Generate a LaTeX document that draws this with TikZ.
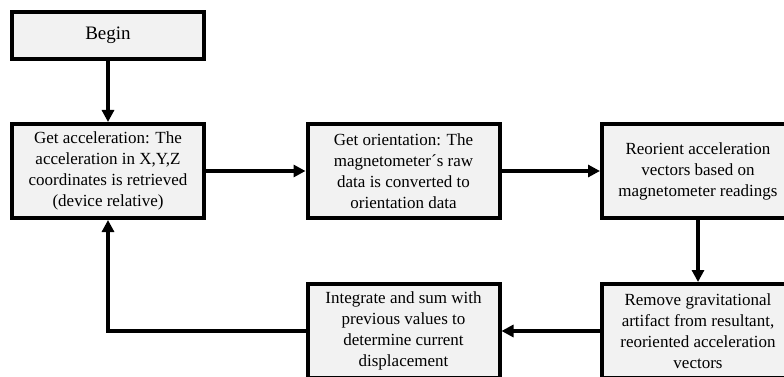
\documentclass[tikz,border=0pt]{standalone}
\usepackage{fontspec}
\setmainfont{Liberation Serif}
\usetikzlibrary{arrows.meta}
\definecolor{boxfill}{HTML}{F2F2F2}
\tikzset{
  stepbox/.style={draw=black, line width=4pt, fill=boxfill, align=center,
    minimum width=192pt, minimum height=94pt, inner sep=0pt,
    font=\fontsize{17pt}{21pt}\selectfont},
  startbox/.style={stepbox, minimum height=47pt, font=\fontsize{19pt}{22pt}\selectfont},
  flow/.style={line width=4pt, -{Triangle[length=12pt,width=12pt]}}
}
\begin{document}
\begin{tikzpicture}[x=1pt,y=-1pt]
  \useasboundingbox (0,0) rectangle (784,377);
  \clip (0,0) rectangle (784,377);
  \node[startbox] (begin) at (108,35.5) {Begin};
  \node[stepbox] (acc) at (108,171) {Get acceleration: The\\acceleration in X,Y,Z\\coordinates is retrieved\\(device relative)};
  \node[stepbox] (ori) at (403.5,171) {Get orientation: The\\magnetometer\textasciiacute s raw\\data is converted to\\orientation data};
  \node[stepbox] (reo) at (698,171) {Reorient acceleration\\vectors based on\\magnetometer readings};
  \node[stepbox] (grav) at (698,331) {Remove gravitational\\artifact from resultant,\\reoriented acceleration\\vectors};
  \node[stepbox] (integ) at (403.5,331) {Integrate and sum with\\previous values to\\determine current\\displacement};
  \draw[flow] (begin) -- (acc);
  \draw[flow] (acc) -- (ori);
  \draw[flow] (ori) -- (reo);
  \draw[flow] (reo) -- (grav);
  \draw[flow] (grav) -- (integ);
  \draw[flow] (integ.west) -| (acc.south);
\end{tikzpicture}
\end{document}
